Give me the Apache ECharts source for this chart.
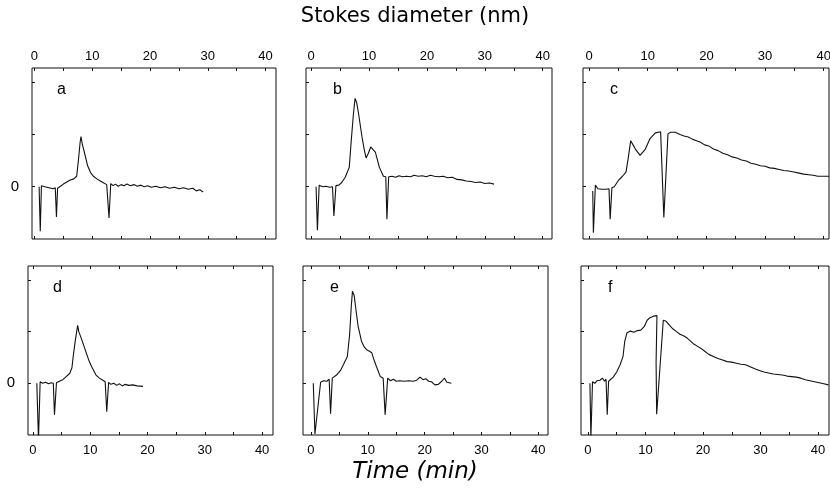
<!DOCTYPE html>
<html>
<head>
<meta charset="utf-8">
<script src="https://cdn.jsdelivr.net/npm/echarts@6/dist/echarts.min.js"></script>
<style>html,body{margin:0;padding:0;background:#fff;}#chart{width:830px;height:494px;}</style>
</head>
<body>
<div id="chart"></div>
<script>
// ---- data (time in min, detector signal, arbitrary units) ----
var panelNames = ['a', 'b', 'c', 'd', 'e', 'f'];
var xTickValues = [0, 10, 20, 30, 40];
var xMinorTicks = [0, 5, 10, 15, 20, 25, 30, 35, 40];
var yTickValues = [0, 1, 2];
var yLabelValues = [0];

var aTime = [0.8,1.0,1.2,1.8,2.5,3.2,3.6,3.8,4.0,4.5,5.0,5.6,6.2,6.8,7.3,7.6,7.9,8.05,8.3,8.7,9.2,9.7,10.2,10.8,11.4,12.0,12.5,12.9,13.2,13.6,14.0,14.5,15.0,15.5,16.0,16.6,17.2,17.8,18.4,19.0,19.6,20.2,21.0,21.8,22.6,23.4,24.2,25.0,25.8,26.6,27.4,28.0,28.6,29.2];
var aSignal = [0.0,-0.85,0.02,0.0,-0.02,-0.04,-0.02,-0.58,-0.03,0.01,0.05,0.09,0.13,0.15,0.2,0.5,0.85,0.96,0.8,0.63,0.4,0.27,0.2,0.15,0.11,0.07,0.04,-0.6,0.06,0.02,0.05,0.01,0.04,0.02,0.05,0.02,0.04,0.01,0.03,0.0,0.02,-0.01,0.01,-0.02,0.0,-0.03,-0.01,-0.04,-0.02,-0.05,-0.03,-0.08,-0.06,-0.1];

var bTime = [0.87,1.1,1.4,2.0,2.6,3.2,3.7,3.95,4.3,4.8,5.3,5.9,6.6,6.9,7.3,7.6,7.9,8.2,8.8,9.2,9.5,9.9,10.3,10.6,11.1,11.8,12.5,12.9,13.1,13.4,14.0,14.6,15.2,15.8,16.5,17.2,17.8,18.5,19.2,19.9,20.6,21.3,22.0,22.8,23.6,24.4,25.2,26.0,26.8,27.6,28.4,29.2,30.0,30.8,31.6];
var bSignal = [0.0,-0.83,0.03,0.0,0.01,-0.01,0.0,-0.56,0.02,0.03,0.08,0.18,0.37,0.82,1.37,1.69,1.6,1.4,0.95,0.7,0.55,0.64,0.76,0.79,0.66,0.37,0.2,0.19,-0.62,0.19,0.2,0.18,0.21,0.19,0.2,0.19,0.22,0.2,0.21,0.19,0.22,0.2,0.19,0.2,0.17,0.18,0.14,0.13,0.11,0.1,0.08,0.09,0.06,0.07,0.05];

var cTime = [0.63,0.74,1.08,1.5,2.2,2.9,3.4,3.6,3.9,4.3,5.0,5.7,6.3,6.7,7.1,7.5,7.9,8.7,9.6,10.4,11.3,12.2,12.5,12.75,13.45,13.9,14.7,15.5,16.2,16.9,17.6,18.3,19.0,19.7,20.4,21.2,22.0,22.8,23.6,24.4,25.2,26.0,26.8,27.6,28.4,29.2,30.0,30.8,31.6,32.4,33.2,34.0,34.9,35.8,36.6,37.4,38.2,39.0,39.8,40.9];
var cSignal = [-0.08,-0.88,0.03,-0.04,-0.05,-0.05,-0.04,-0.62,-0.02,0.0,0.12,0.2,0.28,0.56,0.88,0.8,0.72,0.6,0.72,0.92,1.03,1.05,1.04,-0.59,1.01,1.04,1.04,1.0,0.97,0.95,0.91,0.88,0.85,0.8,0.78,0.72,0.69,0.64,0.61,0.57,0.55,0.51,0.49,0.45,0.43,0.4,0.39,0.36,0.35,0.33,0.31,0.3,0.28,0.26,0.24,0.23,0.22,0.2,0.2,0.2];

var dTime = [0.67,0.96,1.25,1.7,2.2,2.7,3.2,3.55,3.75,4.1,4.6,5.2,5.8,6.4,6.8,7.0,7.4,7.8,8.0,8.4,8.9,9.3,9.8,10.2,11.0,11.6,12.2,12.6,12.88,13.2,13.6,14.1,14.6,15.1,15.6,16.1,16.7,17.4,18.2,19.2];
var dSignal = [0.0,-1.1,0.03,0.0,0.02,-0.01,0.01,0.0,-0.61,0.01,0.04,0.07,0.13,0.19,0.3,0.5,0.84,1.12,1.0,0.88,0.72,0.59,0.43,0.33,0.16,0.1,0.06,0.03,-0.55,0.02,-0.02,0.0,-0.04,-0.01,-0.05,-0.02,-0.04,-0.03,-0.05,-0.06];

var eTime = [0.41,0.7,1.7,2.2,2.8,3.2,3.45,3.75,4.5,5.2,5.7,6.4,6.8,7.1,7.3,7.6,8.0,8.3,8.9,9.4,9.8,10.3,10.7,11.1,11.5,12.2,12.7,13.05,13.5,14.0,14.5,15.0,15.6,16.4,17.2,18.0,18.6,19.2,19.7,20.2,20.7,21.2,21.8,22.4,23.0,23.5,23.9,24.7];
var eSignal = [0.0,-0.98,0.02,0.05,0.04,0.08,-0.59,0.1,0.16,0.25,0.36,0.52,0.94,1.5,1.78,1.7,1.35,1.1,0.81,0.7,0.65,0.62,0.59,0.45,0.33,0.13,0.1,-0.61,0.1,0.05,0.08,0.04,0.05,0.04,0.05,0.04,0.06,0.12,0.07,0.09,0.04,0.03,-0.03,-0.02,0.04,0.1,0.02,0.0];

var fTime = [0.35,0.52,0.8,1.2,1.6,2.1,2.5,2.9,3.15,3.36,3.6,3.9,4.4,5.0,5.6,6.1,6.4,6.8,7.4,8.0,8.6,9.2,9.8,10.3,10.8,11.4,12.0,12.3,11.85,11.95,13.1,13.6,14.2,14.8,15.4,16.0,16.6,17.2,17.8,18.4,19.0,19.6,20.3,21.0,21.8,22.6,23.4,24.2,25.0,25.8,26.6,27.4,28.2,29.0,29.8,30.6,31.4,32.2,33.0,33.8,34.6,35.4,36.2,37.0,37.8,38.6,39.4,40.2,41.0,41.8];
var fSignal = [0.0,-1.05,0.03,0.0,0.05,0.06,0.1,0.04,0.08,-0.61,0.04,0.07,0.12,0.22,0.36,0.52,0.81,0.98,1.01,0.99,1.02,1.03,1.1,1.22,1.27,1.3,1.31,1.28,0.4,-0.6,1.22,1.2,1.12,1.05,1.0,0.95,0.92,0.88,0.82,0.76,0.72,0.68,0.62,0.56,0.52,0.48,0.45,0.42,0.41,0.39,0.37,0.36,0.32,0.28,0.25,0.22,0.2,0.18,0.17,0.16,0.14,0.13,0.12,0.1,0.07,0.05,0.03,0.01,-0.01,-0.03];

var panelTimes = [aTime, bTime, cTime, dTime, eTime, fTime];
var panelSignals = [aSignal, bSignal, cSignal, dSignal, eSignal, fSignal];

// ---- layout ----
var layout = [
  {left: 32,  top: 68,  width: 244, height: 171, xmin: -0.43, xmax: 41.8, pos: 'top'},
  {left: 306, top: 68,  width: 246, height: 171, xmin: -0.87, xmax: 41.6, pos: 'top'},
  {left: 583, top: 68,  width: 246, height: 171, xmin: -1.03, xmax: 40.9, pos: 'top'},
  {left: 28,  top: 266, width: 245, height: 169, xmin: -0.87, xmax: 41.9, pos: 'bottom'},
  {left: 303, top: 266, width: 245, height: 169, xmin: -1.4,  xmax: 41.7, pos: 'bottom'},
  {left: 581, top: 266, width: 248, height: 169, xmin: -1.2,  xmax: 41.9, pos: 'bottom'}
];
var YMIN = -1.0, YMAX = 2.27;

var chart = echarts.init(document.getElementById('chart'), null, {renderer: 'canvas'});
var grids = [], xAxes = [], yAxes = [], series = [], graphics = [];
var labelFont = {fontFamily: 'Liberation Sans, Arial', fontSize: 13, color: '#000'};
layout.forEach(function (L, i) {
  grids.push({left: L.left, top: L.top, width: L.width, height: L.height, show: true,
    borderColor: '#111', borderWidth: 1, backgroundColor: 'transparent', containLabel: false, outerBoundsMode: 'none'});
  // labelled axis (top for upper row, bottom for lower row)
  xAxes.push({type: 'value', gridIndex: i, min: L.xmin, max: L.xmax, position: L.pos,
    axisLine: {show: false, onZero: false}, splitLine: {show: false},
    axisTick: {show: true, inside: true, length: 3, customValues: xMinorTicks, lineStyle: {color: '#111'}},
    axisLabel: Object.assign({show: true, customValues: xTickValues, margin: L.pos === 'top' ? 5 : 9}, labelFont)});
  // opposite side: ticks only
  xAxes.push({type: 'value', gridIndex: i, min: L.xmin, max: L.xmax, position: L.pos === 'top' ? 'bottom' : 'top',
    axisLine: {show: false, onZero: false}, splitLine: {show: false},
    axisTick: {show: true, inside: true, length: 3, customValues: xMinorTicks, lineStyle: {color: '#111'}},
    axisLabel: {show: false}});
  yAxes.push({type: 'value', gridIndex: i, min: YMIN, max: YMAX,
    axisLine: {show: false, onZero: false}, splitLine: {show: false},
    axisTick: {show: true, inside: true, length: 3, customValues: yTickValues, lineStyle: {color: '#111'}},
    axisLabel: {show: (i % 3) === 0, customValues: yLabelValues, margin: 13,
      fontFamily: 'Liberation Sans, Arial', fontSize: 15, color: '#000'}});
  var t = panelTimes[i], s = panelSignals[i], d = [];
  for (var k = 0; k < t.length; k++) d.push([t[k], s[k]]);
  series.push({type: 'line', xAxisIndex: 2 * i, yAxisIndex: i, data: d, showSymbol: false,
    symbol: 'none', clip: true, animation: false,
    lineStyle: {color: '#111', width: 1.1}});
  graphics.push({type: 'text', left: L.left + (i % 3 === 0 ? 25 : 27), top: L.top + 14,
    style: {text: panelNames[i], font: '16px "Liberation Sans", Arial', fill: '#000'}});
});
graphics.push({type: 'text', left: 'center', top: 6,
  style: {text: 'Stokes diameter (nm)', font: '21px "DejaVu Sans"', fill: '#000'}});
graphics.push({type: 'text', left: 'center', top: 461,
  style: {text: 'Time (min)', font: 'italic 23px "DejaVu Sans"', fill: '#000'}});

chart.setOption({
  animation: false,
  backgroundColor: '#fff',
  grid: grids, xAxis: xAxes, yAxis: yAxes, series: series, graphic: graphics
});
</script>
</body>
</html>
